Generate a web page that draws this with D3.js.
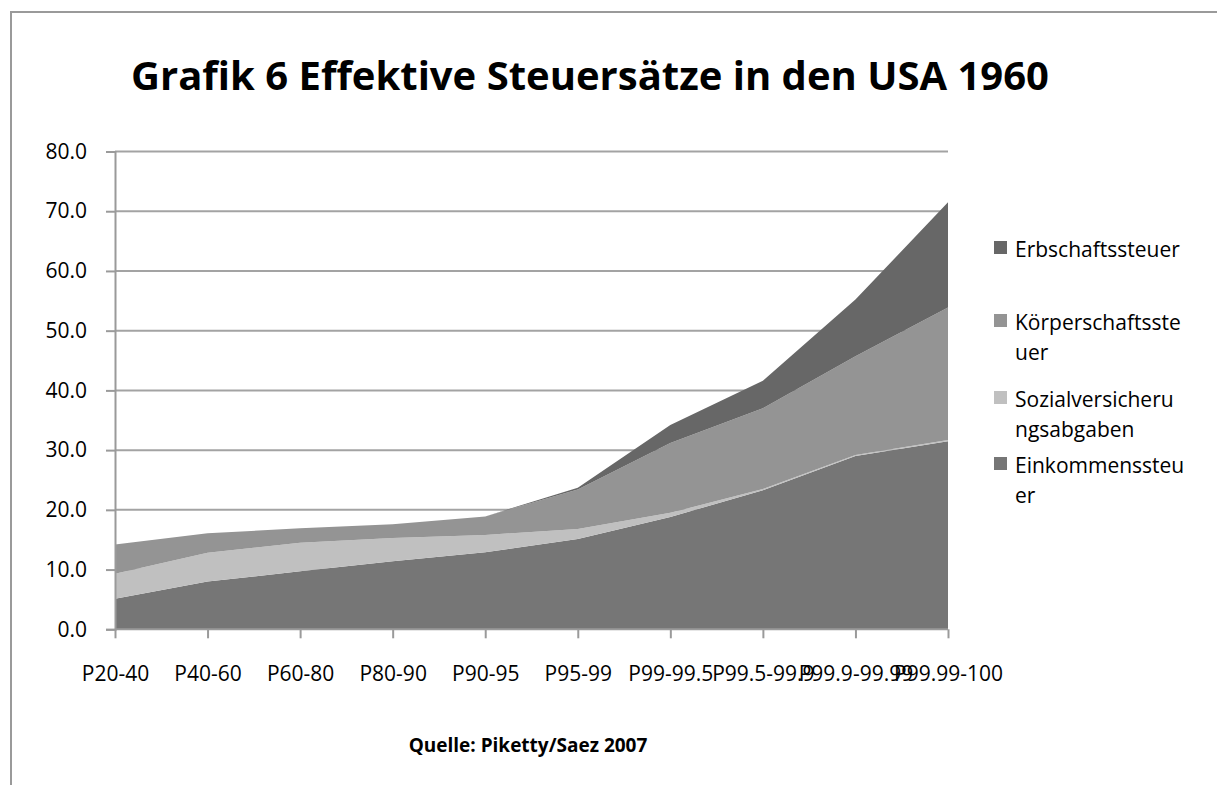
<!DOCTYPE html>
<html>
<head>
<meta charset="utf-8">
<script src="https://cdn.jsdelivr.net/npm/d3@7"></script>
<style>
  body { margin: 0; background: #fff; }
  svg text { font-family: "Open Sans", "Noto Sans", sans-serif; fill: #000; }
</style>
</head>
<body>
<div class="chart"></div>
<script>
// Kategorien (Einkommensperzentile)
const categories = ["P20-40", "P40-60", "P60-80", "P80-90", "P90-95", "P95-99",
                    "P99-99.5", "P99.5-99.9", "P99.9-99.99", "P99.99-100"];
// Serien (gestapelt, von unten nach oben)
const einkommensteuer   = [5.1, 8.0, 9.7, 11.4, 12.9, 15.1, 18.8, 23.3, 29.0, 31.5];
const sozialabgaben     = [4.2, 4.8, 4.8, 3.9, 2.9, 1.7, 0.7, 0.2, 0.2, 0.2];
const koerperschaft     = [4.9, 3.3, 2.4, 2.3, 3.1, 6.6, 11.7, 13.5, 16.5, 22.2];
const erbschaftssteuer  = [0, 0, 0, 0, 0, 0.3, 3.0, 4.6, 9.5, 17.6];
const yTicks = [0, 10, 20, 30, 40, 50, 60, 70, 80];

const seriesKeys = ["ek", "sv", "ks", "es"];
const colors = {ek: "#767676", sv: "#c0c0c0", ks: "#949494", es: "#676767"};

const W = 1217, H = 785;
const svg = d3.select(".chart").append("svg").attr("width", W).attr("height", H);

// Rahmen
svg.append("rect")
  .attr("x", 11).attr("y", 12).attr("width", W + 20).attr("height", H + 20)
  .attr("fill", "none").attr("stroke", "#9a9a9a").attr("stroke-width", 2);

// Titel
svg.append("text")
  .attr("x", 590).attr("y", 90)
  .attr("text-anchor", "middle")
  .style("font-size", "40px").style("font-weight", "bold")
  .text("Grafik 6 Effektive Steuersätze in den USA 1960");

const x = d3.scalePoint().domain(categories).range([115, 948]);
const y = d3.scaleLinear().domain([0, 80]).range([629.3, 151.5]);

// Gitterlinien
svg.append("g").selectAll("line").data(yTicks.slice(1)).join("line")
  .attr("x1", 115).attr("x2", 948)
  .attr("y1", d => y(d)).attr("y2", d => y(d))
  .attr("stroke", "#a3a3a3").attr("stroke-width", 2);

// Daten stapeln
const rows = categories.map((c, i) => ({
  cat: c, ek: einkommensteuer[i], sv: sozialabgaben[i], ks: koerperschaft[i], es: erbschaftssteuer[i]
}));
const stack = d3.stack().keys(seriesKeys)(rows);

const area = d3.area()
  .x(d => x(d.data.cat))
  .y0(d => y(d[0]))
  .y1(d => y(d[1]));

svg.append("g").selectAll("path").data(stack).join("path")
  .attr("d", area)
  .attr("fill", d => colors[d.key]);

// Achsen
const yAxis = svg.append("g").attr("transform", "translate(115,0)")
  .call(d3.axisLeft(y).tickValues(yTicks).tickFormat(d3.format(".1f")).tickSize(9).tickPadding(19));
const xAxis = svg.append("g").attr("transform", "translate(0,629.3)")
  .call(d3.axisBottom(x).tickSize(9).tickPadding(28));

[yAxis, xAxis].forEach(a => {
  a.select(".domain").attr("stroke", "#9a9a9a").attr("stroke-width", 2);
  a.selectAll(".tick line").attr("stroke", "#9a9a9a").attr("stroke-width", 2);
  a.selectAll(".tick text").style("font-size", "21px").style("font-family", "'Open Sans', sans-serif").attr("fill", "#000");
});
xAxis.select(".domain").remove();
xAxis.append("line").attr("x1", 115).attr("x2", 948).attr("stroke", "#9a9a9a").attr("stroke-width", 2);

// Legende (umgebrochene Beschriftungen wie im Original)
const legendItems = [
  {key: "es", lines: ["Erbschaftssteuer"], y: 257},
  {key: "ks", lines: ["Körperschaftsste", "uer"], y: 330},
  {key: "sv", lines: ["Sozialversicheru", "ngsabgaben"], y: 407},
  {key: "ek", lines: ["Einkommenssteu", "er"], y: 473}
];
const lg = svg.append("g");
legendItems.forEach(it => {
  lg.append("rect").attr("x", 994).attr("y", it.y - 16).attr("width", 13).attr("height", 13)
    .attr("fill", colors[it.key]);
  it.lines.forEach((l, j) => {
    lg.append("text").attr("x", 1015).attr("y", it.y + j * 30)
      .style("font-size", "21px").text(l);
  });
});

// Quelle
svg.append("text")
  .attr("x", 528).attr("y", 752).attr("text-anchor", "middle")
  .style("font-size", "19px").style("font-weight", "bold")
  .text("Quelle: Piketty/Saez 2007");
</script>
</body>
</html>
